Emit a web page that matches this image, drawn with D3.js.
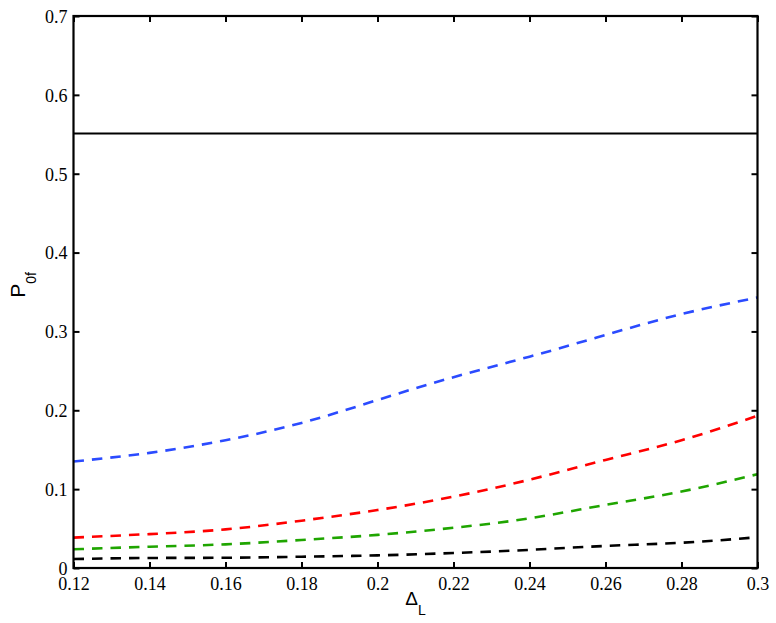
<!DOCTYPE html>
<html>
<head>
<meta charset="utf-8">
<script src="https://cdn.jsdelivr.net/npm/d3@7"></script>
<style>
  html, body { margin: 0; padding: 0; background: #fff; }
  svg { display: block; }
  .tk { font-family: "Liberation Serif", "Times New Roman", Times, serif; font-size: 18px; }
  .lb { font-family: "Liberation Sans", Arial, Helvetica, sans-serif; }
</style>
</head>
<body>
<script>
// ---- data ----
const deltaL = [0.12, 0.14, 0.16, 0.18, 0.20, 0.22, 0.24, 0.26, 0.28, 0.30];
const blueVals  = [0.135, 0.146, 0.162, 0.184, 0.213, 0.242, 0.268, 0.2955, 0.322, 0.343];
const redVals   = [0.0385, 0.043, 0.049, 0.060, 0.0735, 0.0905, 0.112, 0.137, 0.162, 0.193];
const greenVals = [0.0237, 0.027, 0.030, 0.0355, 0.042, 0.051, 0.063, 0.080, 0.097, 0.119];
const blackVals = [0.0114, 0.0127, 0.013, 0.0143, 0.016, 0.019, 0.023, 0.028, 0.032, 0.039];
const solidLevel = 0.551;
const xTicks = [0.12, 0.14, 0.16, 0.18, 0.2, 0.22, 0.24, 0.26, 0.28, 0.3];
const xTickLabels = ["0.12", "0.14", "0.16", "0.18", "0.2", "0.22", "0.24", "0.26", "0.28", "0.3"];
const yTicks = [0, 0.1, 0.2, 0.3, 0.4, 0.5, 0.6, 0.7];
const yTickLabels = ["0", "0.1", "0.2", "0.3", "0.4", "0.5", "0.6", "0.7"];
const seriesColors = ["#2b4bff", "#ff0000", "#1fa500", "#000000"];

// ---- layout ----
const W = 776, H = 623;
const pLeft = 73.5, pRight = 757.5, pTop = 16, pBottom = 568;

const svg = d3.select("body").append("svg").attr("width", W).attr("height", H);

const x = d3.scaleLinear().domain([0.12, 0.3]).range([pLeft, pRight]);
const y = d3.scaleLinear().domain([0, 0.7]).range([pBottom, pTop]);

const series = [blueVals, redVals, greenVals, blackVals];

const line = d3.line()
  .x(d => x(d[0]))
  .y(d => y(d[1]))
  .curve(d3.curveNatural);

svg.append("line")
  .attr("x1", x(0.12)).attr("x2", x(0.3))
  .attr("y1", y(solidLevel)).attr("y2", y(solidLevel))
  .attr("stroke", "#000").attr("stroke-width", 2);

series.forEach((vals, i) => {
  svg.append("path")
    .datum(deltaL.map((d, j) => [d, vals[j]]))
    .attr("d", line)
    .attr("fill", "none")
    .attr("stroke", seriesColors[i])
    .attr("stroke-width", 2.6)
    .attr("stroke-dasharray", "10.5,8");
});

const xAxis = d3.axisBottom(x).tickValues(xTicks)
  .tickFormat((d, i) => xTickLabels[i]).tickSizeInner(-6).tickSizeOuter(0).tickPadding(9);
const gx = svg.append("g").attr("transform", `translate(0,${pBottom})`).call(xAxis);

const xAxisTop = d3.axisTop(x).tickValues(xTicks).tickFormat("").tickSizeInner(-6).tickSizeOuter(0);
const gxt = svg.append("g").attr("transform", `translate(0,${pTop})`).call(xAxisTop);

const yAxis = d3.axisLeft(y).tickValues(yTicks)
  .tickFormat((d, i) => yTickLabels[i]).tickSizeInner(-6).tickSizeOuter(0).tickPadding(6);
const gy = svg.append("g").attr("transform", `translate(${pLeft},0)`).call(yAxis);

const yAxisRight = d3.axisRight(y).tickValues(yTicks).tickFormat("").tickSizeInner(-6).tickSizeOuter(0);
const gyr = svg.append("g").attr("transform", `translate(${pRight},0)`).call(yAxisRight);

[gx, gxt, gy, gyr].forEach(g => {
  g.attr("font-family", null).attr("font-size", null);
  g.select(".domain").remove();
  g.selectAll(".tick line").attr("stroke", "#000").attr("stroke-width", 2);
  g.selectAll(".tick text").attr("fill", "#000").attr("class", "tk");
});
gy.selectAll(".tick text").attr("dy", "0.35em");

svg.append("rect")
  .attr("x", pLeft).attr("y", pTop)
  .attr("width", pRight - pLeft).attr("height", pBottom - pTop)
  .attr("fill", "none").attr("stroke", "#000").attr("stroke-width", 2.2);

const xl = svg.append("text").attr("class", "lb")
  .attr("x", (pLeft + pRight) / 2).attr("y", 605)
  .attr("text-anchor", "middle")
  .style("font-size", "19px").attr("fill", "#000");
xl.append("tspan").text("Δ");
xl.append("tspan").attr("dy", 10).style("font-size", "14px").text("L");

const yl = svg.append("text").attr("class", "lb")
  .attr("transform", `translate(25,285) rotate(-90)`)
  .attr("text-anchor", "middle")
  .style("font-size", "21px").attr("fill", "#000");
yl.append("tspan").text("P");
yl.append("tspan").attr("dy", 11).style("font-size", "14px").text("0f");
</script>
</body>
</html>
